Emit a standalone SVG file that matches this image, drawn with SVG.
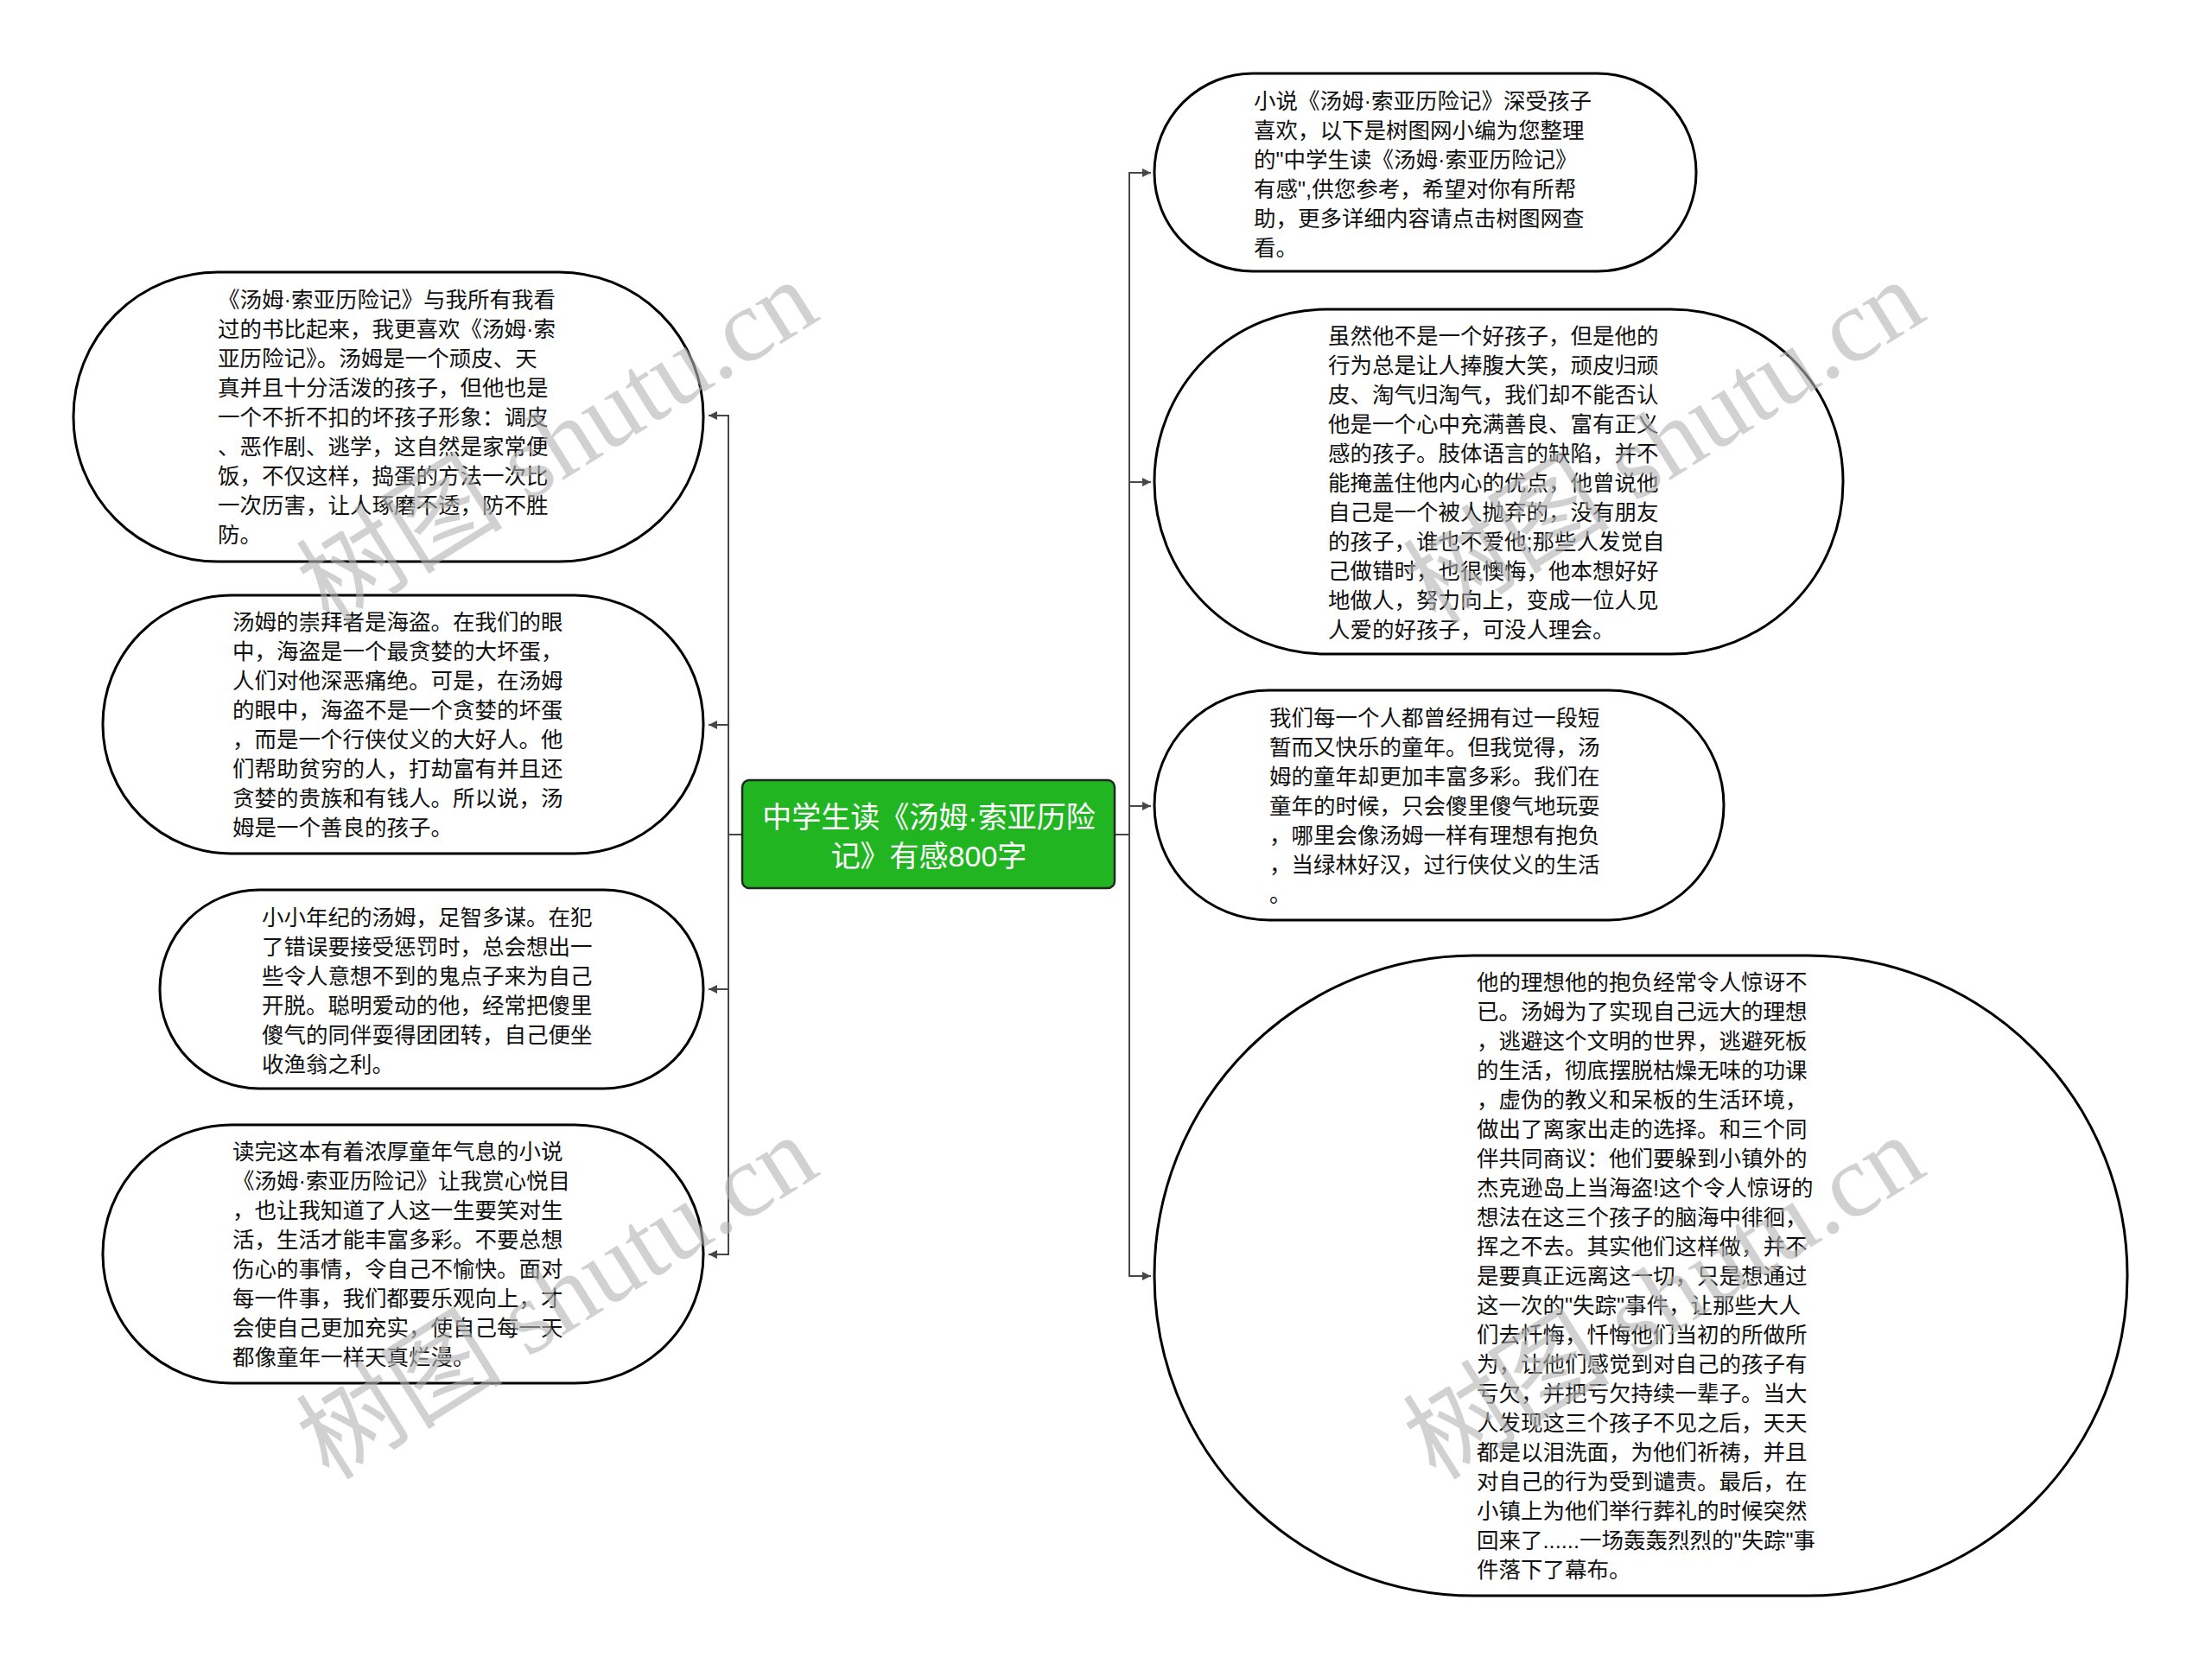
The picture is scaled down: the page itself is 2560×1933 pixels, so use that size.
<svg xmlns="http://www.w3.org/2000/svg" width="2560" height="1933" viewBox="0 0 2560 1933">
<style>
.bg{fill:#ffffff}
.node{fill:#ffffff;stroke:#000000;stroke-width:3}
.root{fill:#22b522;stroke:#1e2a1e;stroke-width:2.5}
.t{font-family:'Liberation Sans','Noto Sans CJK SC',sans-serif;font-size:25.5px;fill:#111111}
.rt{font-family:'Liberation Sans','Noto Sans CJK SC',sans-serif;font-size:34px;fill:#ffffff;text-anchor:middle}
.c{fill:none;stroke:#474747;stroke-width:2}
.wm{font-family:'Liberation Serif','Noto Sans CJK SC',serif;font-size:120px;fill:#b4b4b4;opacity:0.6;text-anchor:middle;dominant-baseline:central}
</style>
<defs>
<marker id="arr" viewBox="0 0 10 10" refX="10" refY="5" markerWidth="10" markerHeight="10" orient="auto" markerUnits="userSpaceOnUse">
<path d="M0,0 L10,5 L0,10 z" fill="#474747"/>
</marker>
</defs>
<rect class="bg" x="0" y="0" width="2560" height="1933"/>

<g id="connectors">
<path class="c" d="M859,966 H843 V481 H820" marker-end="url(#arr)"/>
<path class="c" d="M859,966 H843 V839 H820" marker-end="url(#arr)"/>
<path class="c" d="M859,966 H843 V1145 H820" marker-end="url(#arr)"/>
<path class="c" d="M859,966 H843 V1452 H820" marker-end="url(#arr)"/>
<path class="c" d="M1290,966 H1307 V200 H1332" marker-end="url(#arr)"/>
<path class="c" d="M1290,966 H1307 V558 H1332" marker-end="url(#arr)"/>
<path class="c" d="M1290,966 H1307 V933 H1332" marker-end="url(#arr)"/>
<path class="c" d="M1290,966 H1307 V1477 H1332" marker-end="url(#arr)"/>
</g>

<g id="root">
<rect class="root" x="859" y="903" width="431" height="125" rx="8" ry="8"/>
<text class="rt" x="1075" y="958">中学生读《汤姆·索亚历险</text>
<text class="rt" x="1075" y="1003">记》有感800字</text>
</g>

<g id="node-l1">
<rect class="node" x="85" y="315" width="729" height="335" rx="167" ry="167"/>
<text class="t" x="252" y="356">
<tspan x="252" dy="0">《汤姆·索亚历险记》与我所有我看</tspan>
<tspan x="252" dy="34">过的书比起来，我更喜欢《汤姆·索</tspan>
<tspan x="252" dy="34">亚历险记》。汤姆是一个顽皮、天</tspan>
<tspan x="252" dy="34">真并且十分活泼的孩子，但他也是</tspan>
<tspan x="252" dy="34">一个不折不扣的坏孩子形象：调皮</tspan>
<tspan x="252" dy="34">、恶作剧、逃学，这自然是家常便</tspan>
<tspan x="252" dy="34">饭，不仅这样，捣蛋的方法一次比</tspan>
<tspan x="252" dy="34">一次历害，让人琢磨不透，防不胜</tspan>
<tspan x="252" dy="34">防。</tspan>
</text>
</g>

<g id="node-l2">
<rect class="node" x="119" y="689" width="695" height="299" rx="149" ry="149"/>
<text class="t" x="269" y="729">
<tspan x="269" dy="0">汤姆的崇拜者是海盗。在我们的眼</tspan>
<tspan x="269" dy="34">中，海盗是一个最贪婪的大坏蛋，</tspan>
<tspan x="269" dy="34">人们对他深恶痛绝。可是，在汤姆</tspan>
<tspan x="269" dy="34">的眼中，海盗不是一个贪婪的坏蛋</tspan>
<tspan x="269" dy="34">，而是一个行侠仗义的大好人。他</tspan>
<tspan x="269" dy="34">们帮助贫穷的人，打劫富有并且还</tspan>
<tspan x="269" dy="34">贪婪的贵族和有钱人。所以说，汤</tspan>
<tspan x="269" dy="34">姆是一个善良的孩子。</tspan>
</text>
</g>

<g id="node-l3">
<rect class="node" x="185" y="1030" width="629" height="230" rx="115" ry="115"/>
<text class="t" x="303" y="1071">
<tspan x="303" dy="0">小小年纪的汤姆，足智多谋。在犯</tspan>
<tspan x="303" dy="34">了错误要接受惩罚时，总会想出一</tspan>
<tspan x="303" dy="34">些令人意想不到的鬼点子来为自己</tspan>
<tspan x="303" dy="34">开脱。聪明爱动的他，经常把傻里</tspan>
<tspan x="303" dy="34">傻气的同伴耍得团团转，自己便坐</tspan>
<tspan x="303" dy="34">收渔翁之利。</tspan>
</text>
</g>

<g id="node-l4">
<rect class="node" x="119" y="1302" width="695" height="299" rx="149" ry="149"/>
<text class="t" x="269" y="1342">
<tspan x="269" dy="0">读完这本有着浓厚童年气息的小说</tspan>
<tspan x="269" dy="34">《汤姆·索亚历险记》让我赏心悦目</tspan>
<tspan x="269" dy="34">，也让我知道了人这一生要笑对生</tspan>
<tspan x="269" dy="34">活，生活才能丰富多彩。不要总想</tspan>
<tspan x="269" dy="34">伤心的事情，令自己不愉快。面对</tspan>
<tspan x="269" dy="34">每一件事，我们都要乐观向上，才</tspan>
<tspan x="269" dy="34">会使自己更加充实，使自己每一天</tspan>
<tspan x="269" dy="34">都像童年一样天真烂漫。</tspan>
</text>
</g>

<g id="node-r1">
<rect class="node" x="1336" y="85" width="627" height="229" rx="114" ry="114"/>
<text class="t" x="1451" y="126">
<tspan x="1451" dy="0">小说《汤姆·索亚历险记》深受孩子</tspan>
<tspan x="1451" dy="34">喜欢，以下是树图网小编为您整理</tspan>
<tspan x="1451" dy="34">的"中学生读《汤姆·索亚历险记》</tspan>
<tspan x="1451" dy="34">有感",供您参考，希望对你有所帮</tspan>
<tspan x="1451" dy="34">助，更多详细内容请点击树图网查</tspan>
<tspan x="1451" dy="34">看。</tspan>
</text>
</g>

<g id="node-r2">
<rect class="node" x="1336" y="358" width="797" height="399" rx="199" ry="199"/>
<text class="t" x="1537" y="398">
<tspan x="1537" dy="0">虽然他不是一个好孩子，但是他的</tspan>
<tspan x="1537" dy="34">行为总是让人捧腹大笑，顽皮归顽</tspan>
<tspan x="1537" dy="34">皮、淘气归淘气，我们却不能否认</tspan>
<tspan x="1537" dy="34">他是一个心中充满善良、富有正义</tspan>
<tspan x="1537" dy="34">感的孩子。肢体语言的缺陷，并不</tspan>
<tspan x="1537" dy="34">能掩盖住他内心的优点，他曾说他</tspan>
<tspan x="1537" dy="34">自己是一个被人抛弃的，没有朋友</tspan>
<tspan x="1537" dy="34">的孩子，谁也不爱他;那些人发觉自</tspan>
<tspan x="1537" dy="34">己做错时，也很懊悔，他本想好好</tspan>
<tspan x="1537" dy="34">地做人，努力向上，变成一位人见</tspan>
<tspan x="1537" dy="34">人爱的好孩子，可没人理会。</tspan>
</text>
</g>

<g id="node-r3">
<rect class="node" x="1336" y="799" width="659" height="266" rx="133" ry="133"/>
<text class="t" x="1469" y="840">
<tspan x="1469" dy="0">我们每一个人都曾经拥有过一段短</tspan>
<tspan x="1469" dy="34">暂而又快乐的童年。但我觉得，汤</tspan>
<tspan x="1469" dy="34">姆的童年却更加丰富多彩。我们在</tspan>
<tspan x="1469" dy="34">童年的时候，只会傻里傻气地玩耍</tspan>
<tspan x="1469" dy="34">，哪里会像汤姆一样有理想有抱负</tspan>
<tspan x="1469" dy="34">，当绿林好汉，过行侠仗义的生活</tspan>
<tspan x="1469" dy="34">。</tspan>
</text>
</g>

<g id="node-r4">
<rect class="node" x="1336" y="1106" width="1126" height="741" rx="370" ry="370"/>
<text class="t" x="1709" y="1146">
<tspan x="1709" dy="0">他的理想他的抱负经常令人惊讶不</tspan>
<tspan x="1709" dy="34">已。汤姆为了实现自己远大的理想</tspan>
<tspan x="1709" dy="34">，逃避这个文明的世界，逃避死板</tspan>
<tspan x="1709" dy="34">的生活，彻底摆脱枯燥无味的功课</tspan>
<tspan x="1709" dy="34">，虚伪的教义和呆板的生活环境，</tspan>
<tspan x="1709" dy="34">做出了离家出走的选择。和三个同</tspan>
<tspan x="1709" dy="34">伴共同商议：他们要躲到小镇外的</tspan>
<tspan x="1709" dy="34">杰克逊岛上当海盗!这个令人惊讶的</tspan>
<tspan x="1709" dy="34">想法在这三个孩子的脑海中徘徊，</tspan>
<tspan x="1709" dy="34">挥之不去。其实他们这样做，并不</tspan>
<tspan x="1709" dy="34">是要真正远离这一切，只是想通过</tspan>
<tspan x="1709" dy="34">这一次的"失踪"事件，让那些大人</tspan>
<tspan x="1709" dy="34">们去忏悔，忏悔他们当初的所做所</tspan>
<tspan x="1709" dy="34">为，让他们感觉到对自己的孩子有</tspan>
<tspan x="1709" dy="34">亏欠，并把亏欠持续一辈子。当大</tspan>
<tspan x="1709" dy="34">人发现这三个孩子不见之后，天天</tspan>
<tspan x="1709" dy="34">都是以泪洗面，为他们祈祷，并且</tspan>
<tspan x="1709" dy="34">对自己的行为受到谴责。最后，在</tspan>
<tspan x="1709" dy="34">小镇上为他们举行葬礼的时候突然</tspan>
<tspan x="1709" dy="34">回来了......一场轰轰烈烈的"失踪"事</tspan>
<tspan x="1709" dy="34">件落下了幕布。</tspan>
</text>
</g>

<g id="watermarks">
<text class="wm" x="645" y="512" transform="rotate(-32 645 512)">树图 shutu.cn</text>
<text class="wm" x="645" y="1502" transform="rotate(-32 645 1502)">树图 shutu.cn</text>
<text class="wm" x="1926" y="512" transform="rotate(-32 1926 512)">树图 shutu.cn</text>
<text class="wm" x="1926" y="1502" transform="rotate(-32 1926 1502)">树图 shutu.cn</text>
</g>
</svg>
